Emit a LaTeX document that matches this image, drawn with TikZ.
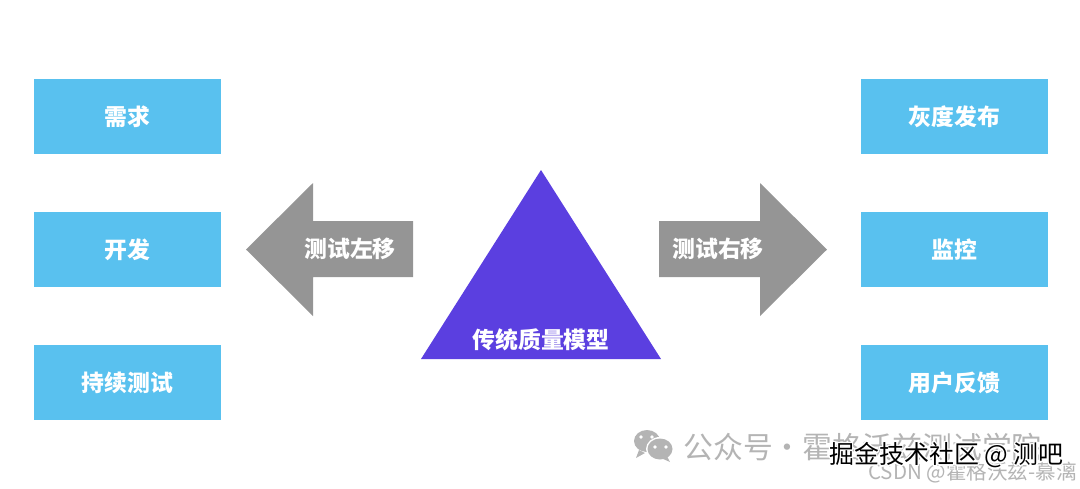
\documentclass[tikz,border=0pt]{standalone}
\usepackage{fontspec}
\usepackage[copies]{contour}
\setmainfont{Noto Sans CJK SC}
\definecolor{boxblue}{HTML}{59C1EF}
\definecolor{arrowgray}{HTML}{959595}
\definecolor{triviolet}{HTML}{5B3FE0}
\definecolor{markgray}{HTML}{B4B4B4}
\tikzset{
	stagebox/.style={fill=boxblue,minimum width=187*0.02cm,minimum height=75*0.02cm,inner sep=0pt,
		text=white,font=\fontsize{13}{15}\selectfont\bfseries},
	shifttext/.style={text=white,font=\fontsize{13}{15}\selectfont\bfseries,inner sep=0pt},
	marktext/.style={text=markgray,inner sep=0pt,anchor=west}
}
\contourlength{0.7pt}
\begin{document}
\begin{tikzpicture}[x=0.02cm,y=-0.02cm]
	\useasboundingbox(0,0)rectangle(1080,488);
	\foreach \name/\y/\txt in {req/116.5/需求,dev/249.5/开发,cont/382.5/持续测试}{
		\node[stagebox](\name)at(127.5,\y){\txt};
	}
	\foreach \name/\y/\txt in {gray/116.5/灰度发布,mon/249.5/监控,fb/382.5/用户反馈}{
		\node[stagebox](\name)at(954.5,\y){\txt};
	}
	\fill[arrowgray](246,249.5)--(313,183)--(313,221)--(413,221)--(413,277)--(313,277)--(313,316)--cycle;
	\fill[arrowgray](827,249.5)--(760,183)--(760,221)--(659,221)--(659,277)--(760,277)--(760,316)--cycle;
	\fill[triviolet](541,170)--(661,359)--(421,359)--cycle;
	\node[shifttext](leftlabel)at(350,249){测试左移};
	\node[shifttext](rightlabel)at(718,249){测试右移};
	\node[shifttext](model)at(541,340){传统质量模型};
	% watermark
	\fill[markgray](647,441)ellipse(13 and 11);
	\fill[markgray](639,450)--(636,458)--(645,453)--cycle;
	\fill[white](660,449)ellipse(14 and 12);
	\fill[markgray](660,449)ellipse(12.5 and 10.5);
	\fill[markgray](667,456)--(670,462)--(661,458)--cycle;
	\foreach \x/\y/\c in {641/437/white,652/437/white,655/447/white,666/447/white}{
		\fill[\c](\x,\y)circle(1.8);
	}
	\node[marktext,font=\fontsize{17}{19}\selectfont](gzh)at(683,447){公众号·霍格沃兹测试学院};
	\node[marktext,font=\fontsize{11.7}{13}\selectfont](csdn)at(868,473){CSDN @霍格沃兹-慕漓};
	\node[inner sep=0pt,anchor=west,font=\fontsize{14.2}{16}\selectfont](juejin)at(829,456){\contour{white}{掘金技术社区 @ 测吧}};
\end{tikzpicture}
\end{document}
